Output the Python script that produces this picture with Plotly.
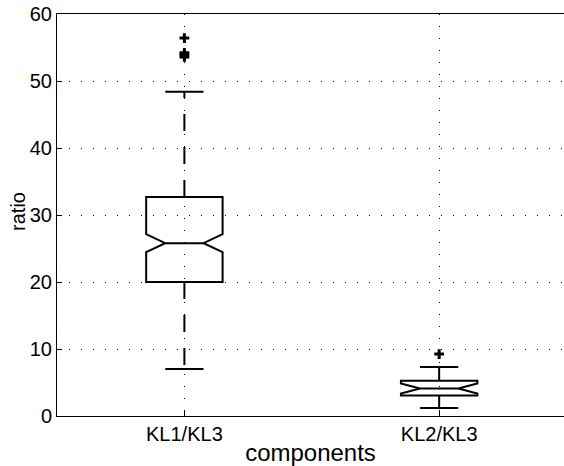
import plotly.graph_objects as go

# ---- data ----
categories = ["KL1/KL3", "KL2/KL3"]
positions = [1, 2]
q1_vals = [20.0, 3.05]
median_vals = [25.8, 4.1]
q3_vals = [32.7, 5.25]
notch_half = [1.35, 0.75]
lower_whisker = [7.0, 1.2]
upper_whisker = [48.4, 7.3]
outlier_pos = [1, 1, 1, 1, 2]
outlier_vals = [56.4, 54.2, 53.9, 53.6, 9.25]
y_ticks = [0, 10, 20, 30, 40, 50, 60]

BOX_W = 0.30
CAP_W = 0.15
FONT = "Liberation Sans, Arial, Helvetica, sans-serif"

fig = go.Figure()

# notched boxes (whiskers drawn separately, dashed)
fig.add_trace(go.Box(
    x=positions, q1=q1_vals, median=median_vals, q3=q3_vals,
    lowerfence=q1_vals, upperfence=q3_vals,
    notchspan=notch_half, notched=True, notchwidth=0.25,
    width=BOX_W, whiskerwidth=0,
    fillcolor="rgba(0,0,0,0)", line=dict(color="black", width=2),
    boxpoints=False, showlegend=False, hoverinfo="skip",
))

# dashed whiskers, each drawn from the box outward
for p, a, b in zip(positions, q3_vals, upper_whisker):
    fig.add_trace(go.Scatter(x=[p, p], y=[a, b], mode="lines",
                             line=dict(color="black", width=2, dash="17px,16px"),
                             showlegend=False, hoverinfo="skip"))
for p, a, b in zip(positions, q1_vals, lower_whisker):
    fig.add_trace(go.Scatter(x=[p, p], y=[a, b], mode="lines",
                             line=dict(color="black", width=2, dash="17px,16px"),
                             showlegend=False, hoverinfo="skip"))

# whisker caps
cap_x, cap_y = [], []
for p, lo, hi in zip(positions, lower_whisker, upper_whisker):
    cap_x += [p - CAP_W / 2, p + CAP_W / 2, None, p - CAP_W / 2, p + CAP_W / 2, None]
    cap_y += [hi, hi, None, lo, lo, None]
fig.add_trace(go.Scatter(x=cap_x, y=cap_y, mode="lines",
                         line=dict(color="black", width=2),
                         showlegend=False, hoverinfo="skip"))

# outliers
fig.add_trace(go.Scatter(x=outlier_pos, y=outlier_vals, mode="markers",
                         marker=dict(symbol="cross-thin", size=7,
                                     line=dict(color="black", width=3)),
                         showlegend=False, hoverinfo="skip"))

fig.update_layout(
    width=564, height=466,
    margin=dict(l=57, r=0, t=14, b=50, autoexpand=False),
    paper_bgcolor="white", plot_bgcolor="white",
    font=dict(family=FONT, size=20, color="black"),
    xaxis=dict(
        range=[0.5, 2.49], tickvals=positions, ticktext=categories,
        showline=True, linecolor="black", linewidth=1, mirror=True,
        ticks="inside", ticklen=5, tickcolor="black",
        showgrid=True, gridcolor="black", gridwidth=1, griddash="1.2px,10.8px",
        zeroline=False, automargin=False, ticklabeloverflow="allow",
        title=dict(text="components", standoff=4),
    ),
    yaxis=dict(
        range=[0, 60], tickvals=y_ticks,
        showline=True, linecolor="black", linewidth=1, mirror=False,
        ticks="inside", ticklen=5, tickcolor="black",
        showgrid=True, gridcolor="black", gridwidth=1, griddash="1.2px,10.8px",
        zeroline=False, automargin=False, ticklabeloverflow="allow",
    ),
    annotations=[dict(
        text="ratio", xref="paper", yref="paper", x=-0.077, y=0.51,
        xanchor="center", yanchor="middle", textangle=-90, showarrow=False,
        font=dict(family=FONT, size=20, color="black"),
    )],
)

# remove the default 8px page margin so the figure sits at the window's corner
fig.write_html("out.html",
               config={"displayModeBar": False},
               post_script="document.body.style.margin='0';"
                           "document.body.style.overflow='hidden';")
